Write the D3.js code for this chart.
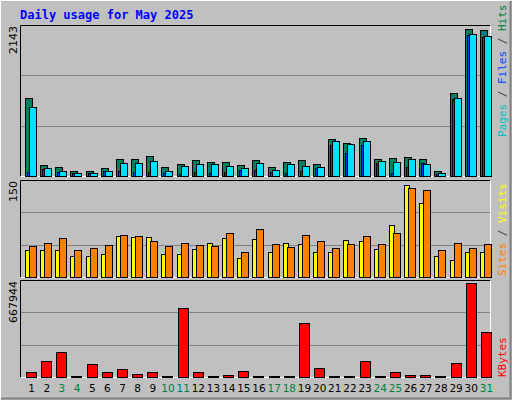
<!DOCTYPE html>
<html><head><meta charset="utf-8">
<script src="https://cdn.jsdelivr.net/npm/d3@7"></script>
<style>body{margin:0;background:#fff}</style></head>
<body><svg id="c" width="512" height="400"></svg>
<script>
const days = d3.range(1,32);
const weekend = [3,4,10,11,17,18,24,25,31];
const hits  = [1112,161,132,76,76,118,246,246,289,132,175,232,203,203,161,232,132,203,232,175,530,473,544,246,260,274,246,76,1183,2091,2077];
const files = [984,118,76,47,47,76,189,189,218,76,147,175,175,147,118,189,90,175,147,132,501,459,501,218,203,246,175,47,1112,2020,1991];
const pages = [61,104,61,38,38,71,76,61,61,47,33,61,38,61,90,90,61,47,76,118,445,331,445,189,47,132,189,33,1097,1996,1977];
const visits= [42,41,42,33,32,35,63,62,62,35,36,44,53,60,29,59,39,53,51,39,38,57,56,44,81,143,115,33,27,39,39];
const sites = [48,53,60,41,45,50,65,63,56,48,53,50,48,68,38,74,51,47,65,56,45,51,63,51,68,138,134,41,53,45,51];
const kbytes= [31000,108000,172000,5000,87000,31000,52000,24000,31000,5000,477000,31000,5000,17000,38000,5000,5000,5000,370000,59000,5000,5000,108000,5000,31000,17000,17000,5000,94000,647000,307000];
const maxHits = 2143, maxSites = 150, maxKB = 667944;

const svg = d3.select("#c");
svg.append("rect").attr("width",512).attr("height",400).attr("fill","#c0c0c0");
svg.append("path").attr("d","M0.5,399.5V0.5H511.5").attr("stroke","#fff").attr("fill","none");
svg.append("path").attr("d","M1,398.5H510.5V1").attr("stroke","#808080").attr("stroke-width",2).attr("fill","none");
svg.append("text").attr("x",20).attr("y",19).text("Daily usage for May 2025")
  .attr("font-family","DejaVu Sans Mono").attr("font-weight","bold").attr("font-size",12).attr("fill","#0000ff");

const x = d3.scaleBand().domain(days).range([21,491]).padding(0);
const L=20,R=491;
function panel(top,bottom,max,label){
  svg.append("rect").attr("x",L).attr("y",top).attr("width",R-L).attr("height",bottom-top).attr("fill","#c0c0c0");
  const y=d3.scaleLinear().domain([0,max]).range([bottom,top]);
  [max/3,2*max/3].forEach(v=>svg.append("line").attr("x1",L).attr("x2",R).attr("y1",Math.round(y(v))+.5).attr("y2",Math.round(y(v))+.5).attr("stroke","#808080"));
  svg.append("path").attr("d",`M${L+.5},${bottom+.5}V${top+.5}H${R-.5}`).attr("stroke","#000").attr("fill","none");
  svg.append("path").attr("d",`M${L+.5},${bottom+.5}H${R-.5}V${top+.5}`).attr("stroke","#fff").attr("fill","none");
  svg.append("text").attr("transform",`translate(17,${top+1}) rotate(-90)`).attr("text-anchor","end")
    .attr("font-family","DejaVu Sans").attr("font-size",11).attr("fill","#000").text(label);
  return y;
}
function bars(y,data,dx,w,fill,bottom){
  svg.append("g").selectAll("rect").data(data).join("rect")
    .attr("x",(d,i)=>Math.round(x(days[i]))+dx+.5).attr("width",w)
    .attr("y",d=>Math.round(y(d))+.5).attr("height",d=>Math.max(0,bottom-Math.round(y(d))))
    .attr("fill",fill).attr("stroke","#000");
}
const y1=panel(25,176,maxHits,"2143");
bars(y1,hits,4,7,"#008060",176);
bars(y1,pages,6,3,"#0040ff",176);
bars(y1,files,8,7,"#00e0ff",176);
const y2=panel(180,277,maxSites,"150");
bars(y2,visits,4,5,"#ffff00",277);
bars(y2,sites,8,7,"#ff8000",277);
const y3=panel(280,377,maxKB,"667944");
bars(y3,kbytes,5,10,"#ff0000",377);

svg.append("g").selectAll("text").data(days).join("text")
  .attr("x",d=>x(d)+x.bandwidth()/2+3).attr("y",392).attr("text-anchor","middle")
  .attr("font-family","DejaVu Sans").attr("font-size",10.5)
  .attr("fill",d=>weekend.includes(d)?"#008040":"#000").text(d=>d);

function rlabel(yBottom,parts){
  const t=svg.append("text").attr("transform",`translate(506,${yBottom}) rotate(-90)`)
    .attr("font-family","DejaVu Sans Mono").attr("font-size",11);
  parts.forEach(p=>t.append("tspan").attr("fill",p[1]).text(p[0]));
}
rlabel(137,[["Pages","#00c0c0"],[" / ","#404040"],["Files","#0040ff"],[" / ","#404040"],["Hits","#008040"]]);
rlabel(276,[["Sites","#ff8000"],[" / ","#404040"],["Visits","#ffff00"]]);
rlabel(377,[["KBytes","#ff0000"]]);
</script></body></html>
